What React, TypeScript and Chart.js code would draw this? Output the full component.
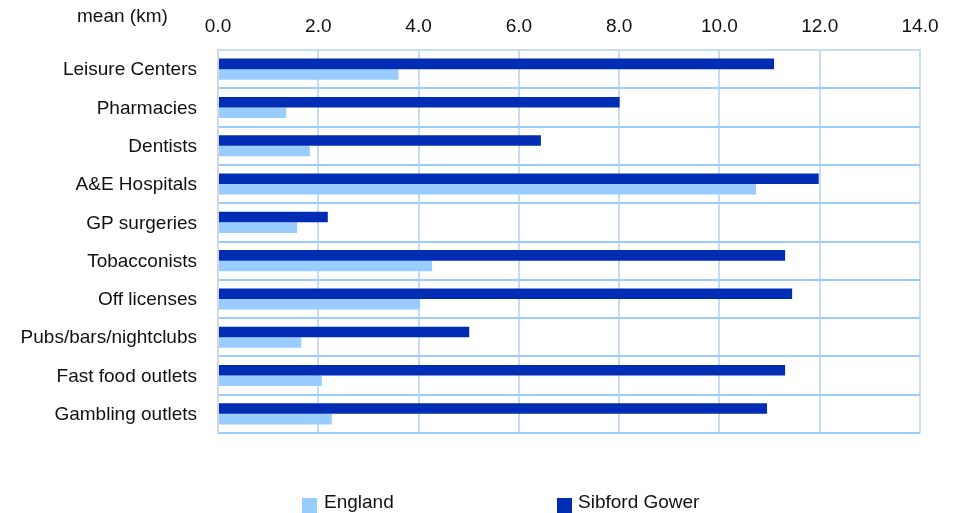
import React, { useEffect, useRef } from "react";
import { Chart, registerables } from "chart.js";

Chart.register(...registerables);

const categories = [
  "Leisure Centers",
  "Pharmacies",
  "Dentists",
  "A&E Hospitals",
  "GP surgeries",
  "Tobacconists",
  "Off licenses",
  "Pubs/bars/nightclubs",
  "Fast food outlets",
  "Gambling outlets",
];
const sibfordGower = [11.09, 8.01, 6.44, 11.98, 2.19, 11.31, 11.45, 5.01, 11.31, 10.95];
const england = [3.6, 1.36, 1.83, 10.73, 1.58, 4.27, 4.03, 1.66, 2.07, 2.27];
const seriesNames = ["England", "Sibford Gower"];
const axisTitle = "mean (km)";

const COLOR_ENGLAND = "#99CCFF";
const COLOR_SIBFORD = "#002DB3";
const FONT = "'Liberation Sans', Arial, Helvetica, sans-serif";

export default function App() {
  const ref = useRef<HTMLCanvasElement | null>(null);

  useEffect(() => {
    if (!ref.current) return;
    const chart = new Chart(ref.current, {
      type: "bar",
      data: {
        labels: categories,
        datasets: [
          {
            label: seriesNames[1],
            data: sibfordGower,
            backgroundColor: COLOR_SIBFORD,
            categoryPercentage: 0.55,
            barPercentage: 1.0,
          },
          {
            label: seriesNames[0],
            data: england,
            backgroundColor: COLOR_ENGLAND,
            categoryPercentage: 0.55,
            barPercentage: 1.0,
          },
        ],
      },
      options: {
        indexAxis: "y",
        responsive: false,
        animation: false,
        layout: { padding: { left: 0, right: 40, top: 0, bottom: 80 } },
        plugins: {
          legend: { display: false },
          tooltip: { enabled: false },
        },
        scales: {
          x: {
            position: "top",
            min: 0,
            max: 14,
            afterFit: (s: any) => {
              s.height = 50;
            },
            ticks: {
              stepSize: 2,
              padding: 12,
              color: "#111",
              font: { family: FONT, size: 19 },
              callback: (v: any) => Number(v).toFixed(1),
            },
            grid: { color: "#C8DDF4", lineWidth: 2, drawTicks: false },
            border: { color: "#C8DDF4", width: 2 },
          },
          y: {
            afterFit: (s: any) => {
              s.width = 218;
            },
            ticks: {
              padding: 21,
              labelOffset: 1,
              color: "#111",
              font: { family: FONT, size: 19 },
            },
            grid: { color: "#99CCFF", lineWidth: 2, drawTicks: false, offset: true },
            border: { color: "#D4D8DE", width: 2 },
          },
        },
      },
    });
    return () => chart.destroy();
  }, []);

  const textStyle: React.CSSProperties = {
    position: "absolute",
    fontFamily: FONT,
    fontSize: 19,
    lineHeight: "19px",
    color: "#111",
    whiteSpace: "nowrap",
  };

  return (
    <div style={{ position: "fixed", left: 0, top: 0, width: 960, height: 513, background: "#fff", overflow: "hidden" }}>
      <canvas ref={ref} width={960} height={513} style={{ width: 960, height: 513, display: "block" }} />
      <div style={{ ...textStyle, left: 77, top: 6 }}>{axisTitle}</div>
      <div style={{ position: "absolute", left: 302, top: 498, width: 15, height: 15, background: COLOR_ENGLAND }} />
      <div style={{ ...textStyle, left: 324, top: 492 }}>{seriesNames[0]}</div>
      <div style={{ position: "absolute", left: 557, top: 498, width: 15, height: 15, background: COLOR_SIBFORD }} />
      <div style={{ ...textStyle, left: 578, top: 492 }}>{seriesNames[1]}</div>
    </div>
  );
}
